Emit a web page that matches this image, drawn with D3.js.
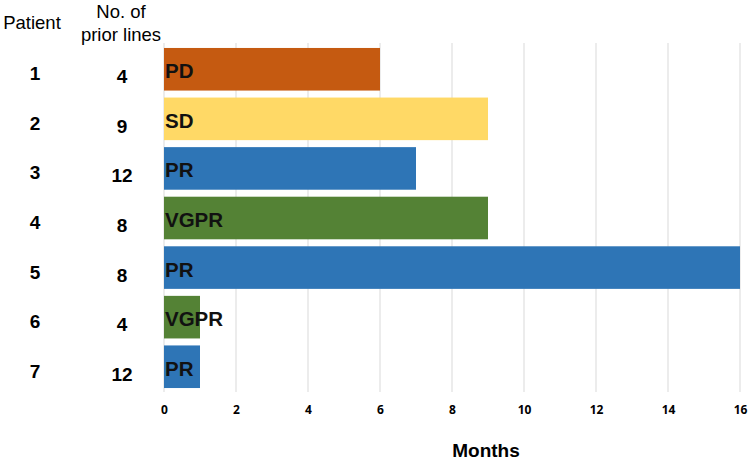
<!DOCTYPE html>
<html><head><meta charset="utf-8">
<script src="https://cdn.jsdelivr.net/npm/d3@7"></script>
<style>body{margin:0;background:#fff}</style>
</head><body>
<svg id="c" width="750" height="461"></svg>
<script>
const patients = ["1","2","3","4","5","6","7"];
const priorLines = [4, 9, 12, 8, 8, 4, 12];
const months = [6, 9, 7, 9, 16, 1, 1];
const responses = ["PD","SD","PR","VGPR","PR","VGPR","PR"];
const xTicks = [0,2,4,6,8,10,12,14,16];
const colorMap = {PD:"#C55A11", SD:"#FFD966", PR:"#2E75B6", VGPR:"#548235"};

const svg = d3.select("#c");
const x = d3.scaleLinear().domain([0,16]).range([164,740]);
const y = d3.scaleBand().domain(patients).range([44.5,391.5]).paddingInner(0.141).paddingOuter(0.07);

// gridlines
svg.append("g").selectAll("line").data(xTicks).join("line")
  .attr("x1", d=>x(d)).attr("x2", d=>x(d)).attr("y1", 43).attr("y2", 392)
  .attr("stroke", "#D9D9D9").attr("stroke-width", 1);

// axis
const ax = svg.append("g").attr("transform","translate(0,400)")
  .call(d3.axisBottom(x).tickValues(xTicks).tickSize(0).tickPadding(0));
ax.select(".domain").remove();
ax.selectAll("text").attr("font-family","Open Sans, sans-serif").attr("font-weight","bold")
  .attr("font-size","12px").attr("fill","#000").attr("dy","14px");

// bars
svg.append("g").selectAll("rect").data(patients).join("rect")
  .attr("x", x(0)).attr("y", d=>y(d))
  .attr("width", (d,i)=>x(months[i])-x(0)).attr("height", y.bandwidth())
  .attr("fill", (d,i)=>colorMap[responses[i]]);

// bar labels
svg.append("g").selectAll("text").data(patients).join("text")
  .attr("x", x(0)+1).attr("y", (d,i)=>y(d)+y.bandwidth()/2+9)
  .attr("font-family","Liberation Sans, Arial, sans-serif").attr("font-weight","bold")
  .attr("font-size","20.5px").attr("fill","#111")
  .text((d,i)=>responses[i]);

// patient numbers
svg.append("g").selectAll("text").data(patients).join("text")
  .attr("x", 35).attr("y", (d,i)=>y(d)+y.bandwidth()/2+11)
  .attr("text-anchor","middle")
  .attr("font-family","Liberation Sans, Arial, sans-serif").attr("font-weight","bold")
  .attr("font-size","19px").attr("fill","#000")
  .text(d=>d);

// prior lines
svg.append("g").selectAll("text").data(patients).join("text")
  .attr("x", 122).attr("y", (d,i)=>y(d)+y.bandwidth()/2+14)
  .attr("text-anchor","middle")
  .attr("font-family","Liberation Sans, Arial, sans-serif").attr("font-weight","bold")
  .attr("font-size","19px").attr("fill","#000")
  .text((d,i)=>priorLines[i]);

// headers
const hdr = {"font-family":"Liberation Sans, Arial, sans-serif","font-size":"18.5px","fill":"#000"};
function txt(t,xx,yy,anchor,extra){
  const e = svg.append("text").attr("x",xx).attr("y",yy).attr("text-anchor",anchor).text(t);
  Object.entries(Object.assign({},hdr,extra||{})).forEach(([k,v])=>e.attr(k,v));
  return e;
}
txt("Patient", 32, 29, "middle");
txt("No. of", 121, 18, "middle");
txt("prior lines", 121, 41, "middle");
txt("Months", 486, 457, "middle", {"font-weight":"bold","font-size":"19px"});
</script>
</body></html>
